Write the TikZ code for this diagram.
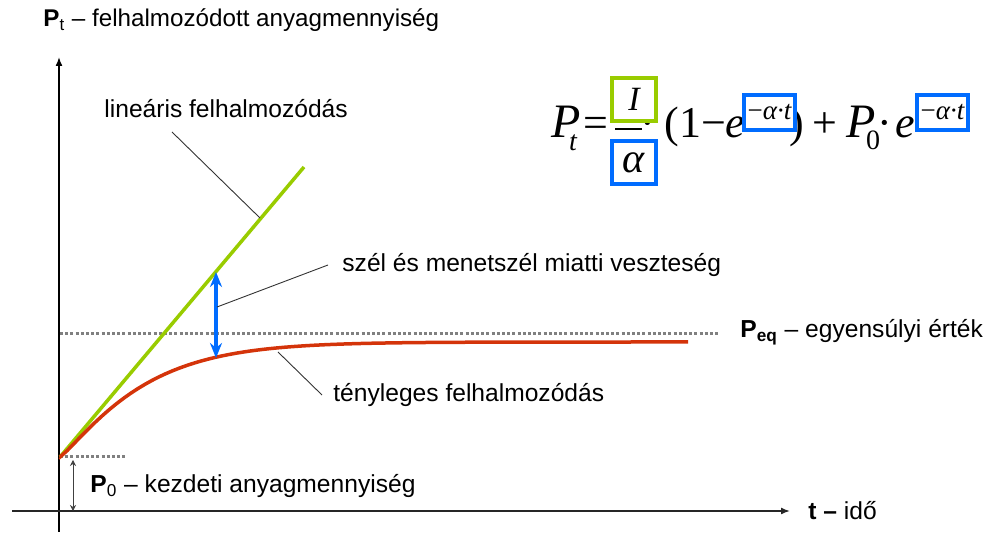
\documentclass[tikz,border=0pt]{standalone}
\usepackage{fontspec}
\setmainfont{Liberation Sans}
\newfontfamily\eqfont{Liberation Serif}
\usetikzlibrary{arrows.meta}

\begin{document}
\begin{tikzpicture}[x = 0.5pt, y = -0.5pt,
  txt/.style = {anchor = base west, inner sep = 0pt, font = \fontsize{12.3}{14}\selectfont},
  leader/.style = {draw = black!80, line width = 0.45pt},
  dotline/.style = {draw = black!50, line width = 1.5pt, dash pattern = on 1.5pt off 1.1pt},
  eqtext/.style = {anchor = base, inner sep = 0pt, font = \eqfont\fontsize{22}{26}\selectfont},
  expbox/.style = {draw = eqblue, line width = 2pt, fill = white, inner sep = 0pt, minimum width = 25.5pt, minimum height = 17.5pt, font = \eqfont\fontsize{13.5}{15}\selectfont},
  fracbox/.style = {line width = 2pt, fill = white, inner sep = 0pt, minimum width = 22pt, minimum height = 21.5pt}]
\definecolor{eqblue}{RGB}{0,108,255}
\definecolor{eqgreen}{RGB}{153,204,0}
\definecolor{curvered}{RGB}{212,52,10}
\useasboundingbox (0,0) rectangle (986,539);

\coordinate (ytop) at (59,57);
\coordinate (ybot) at (59,532);
\coordinate (xleft) at (12,511);
\coordinate (xright) at (790,511);
\coordinate (start) at (60,457);
\coordinate (linend) at (304,167);
\coordinate (losstop) at (216,272);
\coordinate (lossbot) at (216,358);
\coordinate (eqstart) at (60,334);
\coordinate (eqend) at (718,334);
\coordinate (nullend) at (126,457);
\coordinate (nulltop) at (73,460);
\coordinate (nullbot) at (73,511);

\draw [line width = 0.75pt, -{Latex[length = 4.5pt, width = 3.5pt]}] (ybot) -- (ytop);
\draw [line width = 0.75pt, draw = black!85, -{Latex[length = 4.5pt, width = 3.5pt]}] (xleft) -- (xright);

\draw [dotline] (eqstart) -- (eqend);
\draw [dotline] (start) -- (nullend);
\draw [draw = black!75, line width = 0.4pt, {Stealth[length = 3pt, width = 3pt]}-{Stealth[length = 3pt, width = 3pt]}] (nulltop) -- (nullbot);

\draw [draw = eqgreen, line width = 1.75pt] (start) -- (linend);
\draw [draw = curvered, line width = 1.75pt] (start) -- plot [domain = 0.01:628, samples = 90] ({60+\x}, {342+115*exp(-(\x/85)^1.16)});
\draw [draw = eqblue, line width = 2pt, {Stealth[length = 7.5pt, width = 6pt]}-{Stealth[length = 7.5pt, width = 6pt]}] (losstop) -- (lossbot);

\node [txt, font = \fontsize{12.1}{14}\selectfont] (ylabel) at (43,27) {\textbf{P}\textsubscript{t} – felhalmozódott anyagmennyiség};
\node [txt] (linlabel) at (104,118) {lineáris felhalmozódás};
\node [txt] (losslabel) at (342,272) {szél és menetszél miatti veszteség};
\node [txt] (eqlabel) at (740,338) {\textbf{P}\textsubscript{\textbf{eq}} – egyensúlyi érték};
\node [txt] (actlabel) at (333,402) {tényleges felhalmozódás};
\node [txt] (nulllabel) at (90,493) {\textbf{P}\textsubscript{0} – kezdeti anyagmennyiség};
\node [txt] (xlabel) at (808,520) {\textbf{t –} idő};

\coordinate (linfrom) at (172,132);
\coordinate (linto) at (260,218);
\coordinate (lossfrom) at (328,265);
\coordinate (lossto) at (217,307);
\coordinate (actfrom) at (322,395);
\coordinate (actto) at (278,352);
\draw [leader] (linfrom) -- (linto);
\draw [leader] (lossfrom) -- (lossto);
\draw [leader] (actfrom) -- (actto);

\node [eqtext, font = \eqfont\itshape\fontsize{24}{28}\selectfont] (eqP) at (566,138) {P};
\node [eqtext, font = \eqfont\itshape\fontsize{14}{16}\selectfont] (eqPsub) at (573,151) {t};
\node [eqtext] (eqEq) at (596,138) {=};
\draw [line width = 0.75pt] (615,129) -- (642,129);
\node [eqtext] (eqDot) at (648,138) {·};
\node [eqtext, anchor = base west] (eqOpen) at (664,138) {(1−\itshape e};
\node [eqtext] (eqClose) at (797,138) {)};
\node [eqtext] (eqPlus) at (825,138) {+};
\node [eqtext, font = \eqfont\itshape\fontsize{24}{28}\selectfont] (eqPb) at (861,138) {P};
\node [eqtext, font = \eqfont\fontsize{14}{16}\selectfont] (eqPbsub) at (873,150) {0};
\node [eqtext] (eqDotb) at (885,138) {·};
\node [eqtext] (eqE) at (905,138) {\itshape e};

\node [fracbox, draw = eqgreen, font = \eqfont\itshape\fontsize{17}{19}\selectfont] (eqNum) at (634,99.5) {I};
\node [fracbox, draw = eqblue, font = \eqfont\itshape\fontsize{21}{24}\selectfont] (eqDen) at (634,162.5) {α};
\node [expbox] (eqExpA) at (769.5,112.5) {−\itshape α·t};
\node [expbox] (eqExpB) at (942.5,112.5) {−\itshape α·t};
\end{tikzpicture}
\end{document}
